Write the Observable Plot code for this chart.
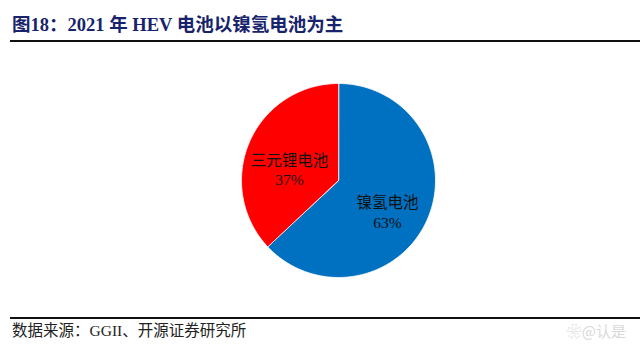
<!DOCTYPE html>
<html>
<head>
<meta charset="utf-8">
<script src="https://cdn.jsdelivr.net/npm/d3@7"></script>
<script src="https://cdn.jsdelivr.net/npm/@observablehq/plot@0.6"></script>
<style>
  html, body { margin: 0; padding: 0; background: #fff; }
  #page { position: relative; width: 640px; height: 351px; overflow: hidden; background: #fff; }
  #title { position: absolute; left: 12px; top: 14px; font: bold 18.5px 'Liberation Serif', 'Noto Sans CJK SC', serif; color: #17236b; white-space: nowrap; line-height: 22px; }
  .rule { position: absolute; left: 10px; right: 0; height: 2px; background: #111; }
  #chart { position: absolute; left: 0; top: 50px; }
  #source { position: absolute; left: 12px; top: 322px; font: 15.5px 'Liberation Serif', 'Noto Sans CJK SC', serif; color: #222; white-space: nowrap; line-height: 18px; }
  #mark { position: absolute; right: 14px; top: 322px; font: 15px 'Noto Sans CJK SC', sans-serif; color: #d9d9d9; white-space: nowrap; line-height: 18px; }
</style>
</head>
<body>
<div id="page">
  <div id="title">图18：2021 年 HEV 电池以镍氢电池为主</div>
  <div class="rule" style="top:40px"></div>
  <div id="chart"></div>
  <div class="rule" style="top:317px"></div>
  <div id="source">数据来源：GGII、开源证券研究所</div>
  <div id="mark">❀@认是</div>
</div>
<script>
const categories = ["镍氢电池", "三元锂电池"];
const values = [63, 37];
const colors = ["#0070C0", "#FF0000"];

const pie = d3.pie().sort(null).value(d => d.value)(
  categories.map((c, i) => ({category: c, value: values[i]}))
);

// polygon points (unit circle, y up, angle clockwise from 12 o'clock)
const pts = [];
for (const s of pie) {
  const n = 120;
  pts.push({category: s.data.category, x: 0, y: 0});
  for (let k = 0; k <= n; k++) {
    const a = s.startAngle + (s.endAngle - s.startAngle) * k / n;
    pts.push({category: s.data.category, x: Math.sin(a), y: Math.cos(a)});
  }
}
const labels = pie.map(s => {
  const a = (s.startAngle + s.endAngle) / 2;
  return {
    text: s.data.category + "\n" + s.data.value + "%",
    x: Math.sin(a) * 0.55,
    y: Math.cos(a) * 0.55
  };
});

const cx = 338, cy = 130, r = 97;
const chart = Plot.plot({
  width: 640,
  height: 260,
  margin: 0,
  x: {domain: [-1, 1], range: [cx - r, cx + r], axis: null},
  y: {domain: [-1, 1], range: [cy + r, cy - r], axis: null},
  color: {domain: categories, range: colors},
  marks: [
    Plot.line(pts, {x: "x", y: "y", z: "category", fill: "category", stroke: "#fff", strokeWidth: 0.8, curve: "linear-closed"}),
    Plot.text(labels, {x: "x", y: "y", text: "text", dy: 10, fontSize: 15.5, lineHeight: 1.27, fill: "#111",
      fontFamily: "'Liberation Serif', 'Noto Sans CJK SC', serif"})
  ]
});
document.getElementById("chart").appendChild(chart);
</script>
</body>
</html>
